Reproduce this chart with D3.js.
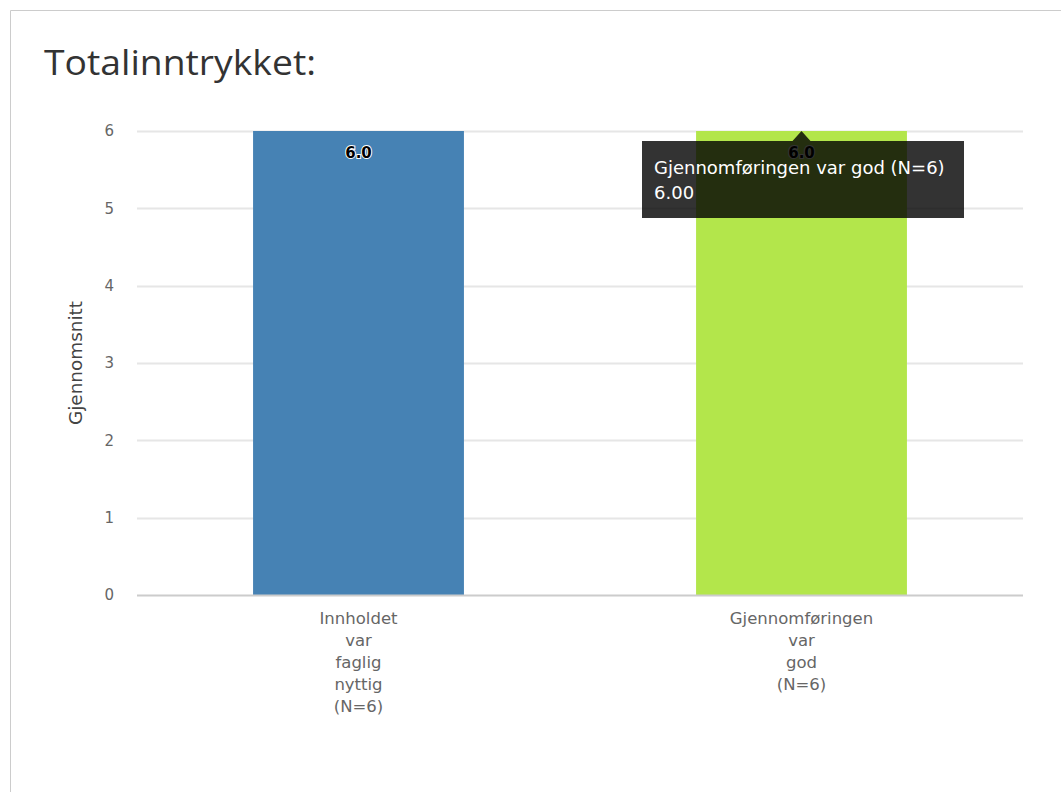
<!DOCTYPE html>
<html>
<head>
<meta charset="utf-8">
<script src="https://cdn.jsdelivr.net/npm/d3@7"></script>
<style>
	body { margin: 0; background: #fff; }
	#chart { position: relative; width: 1061px; height: 792px; overflow: hidden; }
</style>
</head>
<body>
<div id="chart"></div>
<script>
// chart data
const categories = ["Innholdet var faglig nyttig (N=6)", "Gjennomføringen var god (N=6)"];
const values = [6.0, 6.0];
const bar_colors = ["#4682b4", "#b3e64b"];
const y_ticks = [0, 1, 2, 3, 4, 5, 6];
const title_text = "Totalinntrykket:";
const y_title = "Gjennomsnitt";
const tooltip_index = 1;

const width = 1061,
	height = 792;
const margin = { top: 131, right: 38, bottom: 197, left: 137 };
const font = "'DejaVu Sans', Verdana, sans-serif";

const svg = d3
	.select("#chart")
	.append("svg")
	.attr("width", width)
	.attr("height", height);

// card border
svg.append("path")
	.attr("d", "M10.5,792 V10.5 H1061")
	.attr("fill", "none")
	.attr("stroke", "#cccccc")
	.attr("stroke-width", 1);

svg.append("text")
	.attr("x", 44)
	.attr("y", 75)
	.attr("font-family", "'Open Sans', sans-serif")
	.attr("font-size", 34)
	.attr("textLength", 272)
	.attr("lengthAdjust", "spacingAndGlyphs")
	.attr("fill", "#333")
	.text(title_text);

const x = d3
	.scaleBand()
	.domain(categories)
	.range([margin.left, width - margin.right])
	.paddingInner(0.524)
	.paddingOuter(0.262);

const y = d3
	.scaleLinear()
	.domain([0, 6])
	.range([height - margin.bottom, margin.top]);

// grid lines
svg.append("g")
	.selectAll("line")
	.data(y_ticks.filter((d) => d > 0))
	.enter()
	.append("line")
	.attr("x1", margin.left)
	.attr("x2", width - margin.right)
	.attr("y1", (d) => Math.round(y(d)) + 0.5)
	.attr("y2", (d) => Math.round(y(d)) + 0.5)
	.attr("stroke", "#e6e6e6")
	.attr("stroke-width", 2);

// y axis labels
const yAxis = d3
	.axisLeft(y)
	.tickValues(y_ticks)
	.tickFormat(d3.format("d"))
	.tickSize(0)
	.tickPadding(0);
const gy = svg
	.append("g")
	.attr("transform", "translate(" + 114 + ",0)")
	.call(yAxis);
gy.select(".domain").remove();
gy.selectAll("text")
	.attr("font-family", font)
	.attr("font-size", 15)
	.attr("fill", "#666");

svg.append("text")
	.attr("transform", "translate(82," + y(3) + ") rotate(-90)")
	.attr("text-anchor", "middle")
	.attr("font-family", font)
	.attr("font-size", 17)
	.attr("textLength", 124)
	.attr("lengthAdjust", "spacingAndGlyphs")
	.attr("fill", "#444")
	.text(y_title);

// bars
svg.append("g")
	.selectAll("rect")
	.data(categories)
	.enter()
	.append("rect")
	.attr("x", (d) => x(d))
	.attr("y", (d, i) => y(values[i]))
	.attr("width", x.bandwidth())
	.attr("height", (d, i) => y(0) - y(values[i]))
	.attr("fill", (d, i) => bar_colors[i]);

// baseline
svg.append("line")
	.attr("x1", margin.left)
	.attr("x2", width - margin.right)
	.attr("y1", y(0) + 0.5)
	.attr("y2", y(0) + 0.5)
	.attr("stroke", "#cccccc")
	.attr("stroke-width", 2);

// data labels
svg.append("g")
	.selectAll("text")
	.data(categories)
	.enter()
	.append("text")
	.attr("x", (d) => x(d) + x.bandwidth() / 2)
	.attr("y", (d, i) => y(values[i]) + 27)
	.attr("text-anchor", "middle")
	.attr("font-family", font)
	.attr("font-size", 15)
	.attr("font-weight", "bold")
	.attr("fill", "#000")
	.attr("stroke", "#fff")
	.attr("stroke-width", 2)
	.attr("paint-order", "stroke")
	.text((d, i) => values[i].toFixed(1));

// x axis labels, one word per line
const xl = svg
	.append("g")
	.selectAll("text")
	.data(categories)
	.enter()
	.append("text")
	.attr("text-anchor", "middle")
	.attr("font-family", font)
	.attr("font-size", 16.5)
	.attr("fill", "#666");
xl.each(function (d) {
	const words = d.split(" ");
	const t = d3.select(this);
	words.forEach((w, k) => {
		t.append("tspan")
			.attr("x", x(d) + x.bandwidth() / 2)
			.attr("y", y(0) + 29 + k * 22)
			.text(w);
	});
});

// tooltip
const tx = x(categories[tooltip_index]) + x.bandwidth() / 2;
const ty = y(values[tooltip_index]);
const tip = svg.append("g");
const bx = 642,
	by = 141,
	bw = 322,
	bh = 77;
tip.append("path")
	.attr(
		"d",
		`M${bx},${by} H${tx - 9} L${tx},${ty} L${tx + 9},${by} H${bx + bw} V${by + bh} H${bx} Z`
	)
	.attr("fill", "rgba(0,0,0,0.8)");
tip.append("text")
	.attr("x", bx + 12)
	.attr("y", by + 33)
	.attr("font-family", font)
	.attr("font-size", 18)
	.attr("fill", "#fff")
	.text(categories[tooltip_index]);
tip.append("text")
	.attr("x", bx + 12)
	.attr("y", by + 58)
	.attr("font-family", font)
	.attr("font-size", 18)
	.attr("fill", "#fff")
	.text(values[tooltip_index].toFixed(2));
</script>
</body>
</html>
